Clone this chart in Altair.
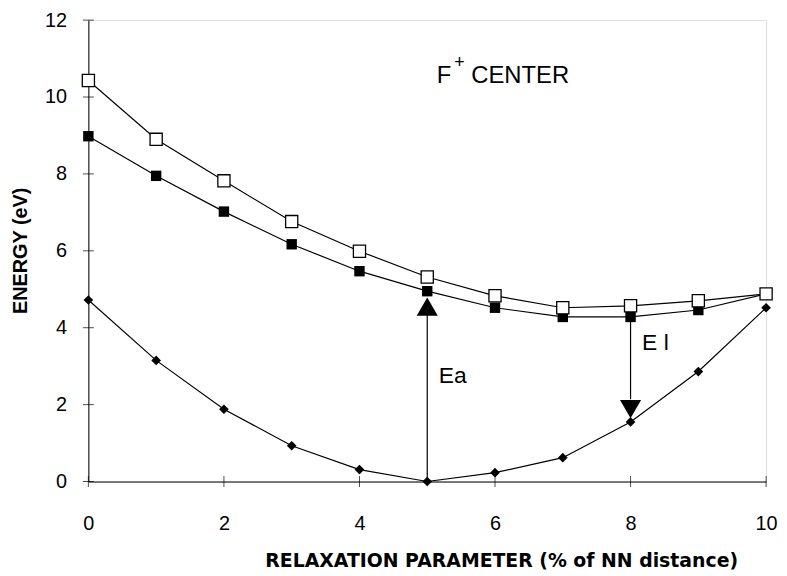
import altair as alt
import pandas as pd

# ---- data ----
relax = [0, 1, 2, 3, 4, 5, 6, 7, 8, 9, 10]
open_sq = [10.43, 8.90, 7.82, 6.76, 5.99, 5.32, 4.83, 4.52, 4.57, 4.70, 4.88]
filled_sq = [8.98, 7.95, 7.02, 6.17, 5.47, 4.95, 4.52, 4.28, 4.28, 4.46, 4.88]
diamonds = [4.72, 3.15, 1.88, 0.93, 0.31, 0.00, 0.23, 0.62, 1.55, 2.86, 4.52]

x_ticks = [0, 2, 4, 6, 8, 10]
y_ticks = [0, 2, 4, 6, 8, 10, 12]

# arrows: x, y start, y end (tail -> head)
arrow_x = [5, 8]
arrow_y0 = [0.0, 4.28]
arrow_y1 = [4.34, 2.14]
head_y = [4.55, 1.88]
head_shape = ["triangle-up", "triangle-down"]

labels = ["Ea", "E l"]
label_x = [5.17, 8.17]
label_y = [2.74, 3.61]

FONT = "Liberation Sans"

df = pd.DataFrame({
    "x": relax * 3,
    "y": open_sq + filled_sq + diamonds,
    "s": ["open"] * 11 + ["filled"] * 11 + ["diamond"] * 11,
})
arrows = pd.DataFrame({"x": arrow_x, "y0": arrow_y0, "y1": arrow_y1,
                       "hy": head_y, "shape": head_shape})
lab = pd.DataFrame({"t": labels, "x": label_x, "y": label_y})

xs = alt.Scale(domain=[0, 10], nice=False, zero=False)
ys = alt.Scale(domain=[0, 12], nice=False, zero=False)

X = alt.X("x:Q", scale=xs, axis=alt.Axis(
    values=x_ticks, format="d", ticks=False, grid=False, domainColor="black",
    labelFlush=False, labelOverlap=False,
    labelFont=FONT, labelFontSize=20, labelColor="black", labelPadding=32,
    title="RELAXATION PARAMETER (% of NN distance)", titleFont="DejaVu Sans",
    titleFontSize=19, titleFontWeight="bold", titleColor="black",
    titleX=416, titleY=80, titleAlign="center", titleBaseline="middle"))
Y = alt.Y("y:Q", scale=ys, axis=alt.Axis(
    values=y_ticks, format="d", ticks=False, grid=False, domainColor="black",
    labelFlush=False, labelOverlap=False,
    labelFont=FONT, labelFontSize=20, labelColor="black", labelPadding=22,
    title="ENERGY (eV)", titleFont=FONT, titleFontSize=20,
    titleFontWeight="bold", titleColor="black", titleX=-68, titleY=232,
    titleAlign="center", titleBaseline="middle"))

base = alt.Chart(df)

lines = base.mark_line(color="black", strokeWidth=1.2).encode(
    x=X, y=Y, detail="s:N")

pts_d = base.transform_filter(alt.datum.s == "diamond").mark_point(
    shape="diamond", filled=True, color="black", size=95, opacity=1).encode(
    x="x:Q", y="y:Q")
pts_f = base.transform_filter(alt.datum.s == "filled").mark_point(
    shape="square", filled=True, color="black", size=110, opacity=1).encode(
    x="x:Q", y="y:Q")
pts_o = base.transform_filter(alt.datum.s == "open").mark_point(
    shape="square", filled=True, fill="white", stroke="black",
    strokeWidth=1.3, size=150, opacity=1).encode(x="x:Q", y="y:Q")

ytick_df = pd.DataFrame({"v": y_ticks})
xtick_df = pd.DataFrame({"v": x_ticks})
yt = alt.Chart(ytick_df).mark_tick(orient="horizontal", size=11, thickness=1,
                                   color="black").encode(
    x=alt.datum(0), y="v:Q")
xt = alt.Chart(xtick_df).mark_tick(orient="vertical", size=11, thickness=1,
                                   color="black").encode(
    x="v:Q", y=alt.datum(0))

ar = alt.Chart(arrows)
shafts = ar.mark_rule(color="black", strokeWidth=1.2).encode(
    x="x:Q", y="y0:Q", y2="y1:Q")
heads = ar.mark_point(filled=True, color="black", size=450, opacity=1).encode(
    x="x:Q", y="hy:Q",
    shape=alt.Shape("shape:N", scale=alt.Scale(
        domain=["triangle-up", "triangle-down"],
        range=["triangle-up", "triangle-down"]), legend=None))

txt = alt.Chart(lab).mark_text(font=FONT, fontSize=23, align="left",
                               baseline="middle", color="black").encode(
    x="x:Q", y="y:Q", text="t:N")

title_df = pd.DataFrame({"t": ["F", "+", "CENTER"], "x": [5.14, 5.40, 5.65],
                         "y": [10.55, 10.89, 10.55], "fs": [24, 18, 24]})
ftxt = alt.Chart(title_df).mark_text(font=FONT, align="left",
                                     baseline="middle", color="black").encode(
    x="x:Q", y="y:Q", text="t:N",
    size=alt.Size("fs:Q", scale=None, legend=None))

chart = alt.layer(lines, yt, xt, shafts, heads, pts_d, pts_f, pts_o, txt, ftxt).properties(
    width=683, height=465,
    autosize=alt.AutoSizeParams(type="none"),
    padding={"left": 81, "top": 10, "right": 13, "bottom": 92},
).configure_view(stroke=None).configure(background="white")

chart.save("out.html", embed_options={"renderer": "svg", "actions": False})
